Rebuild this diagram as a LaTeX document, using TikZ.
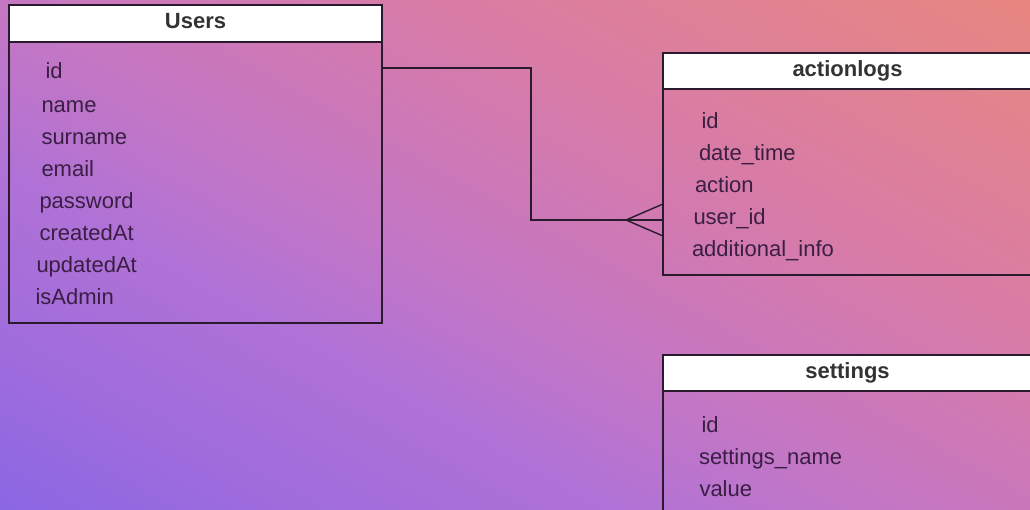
\documentclass[tikz,border=0pt]{standalone}
\usepackage{fontspec}
\setmainfont{Liberation Sans}
\definecolor{gA}{HTML}{8B67E3}
\definecolor{gB}{HTML}{A06CDC}
\definecolor{gC}{HTML}{B072D6}
\definecolor{gD}{HTML}{C677C2}
\definecolor{gE}{HTML}{D77BA8}
\definecolor{gF}{HTML}{E8877F}
\definecolor{edge}{HTML}{2A1A2E}
\definecolor{fieldtxt}{HTML}{3A1E44}
\definecolor{titletxt}{HTML}{333333}
\begin{document}
\begin{tikzpicture}[x=1pt,y=-1pt,
  tbl/.style={draw=edge, line width=1.4pt, anchor=north west, inner sep=0pt, outer sep=0pt},
  hdr/.style={draw=edge, line width=1.4pt, fill=white, anchor=north west, inner sep=0pt, outer sep=0pt,
    font=\fontsize{22}{26}\selectfont\bfseries, text=titletxt, text height=11pt, text depth=0pt},
  fld/.style={anchor=base west, inner sep=0pt, outer sep=0pt, font=\fontsize{22}{26}\selectfont, text=fieldtxt},
  conn/.style={draw=edge, line width=1.4pt}
]
\useasboundingbox (0,0) rectangle (1030,510);
\clip (0,0) rectangle (1030,510);
% background gradient, bottom-left purple to top-right salmon
\begin{scope}[shift={(0,510)}, rotate=61]
  \fill[gA] (-1500,-1500) rectangle (0.5,1500);
  \fill[gF] (950,-1500) rectangle (2500,1500);
  \foreach \ca/\cb/\ta/\tb in {gA/gB/0/150, gB/gC/150/300, gC/gD/300/450, gD/gE/450/640, gE/gF/640/950} {
    \foreach \k in {0,...,29} {
      \pgfmathsetmacro{\p}{100*(\k+0.5)/30}
      \pgfmathsetmacro{\xa}{\ta+(\tb-\ta)*\k/30}
      \pgfmathsetmacro{\xb}{\ta+(\tb-\ta)*(\k+1)/30+0.6}
      \fill[\cb!\p!\ca] (\xa,-1500) rectangle (\xb,1500);
    }
  }
\end{scope}

% Users
\node[tbl, minimum width=373pt, minimum height=318pt] (users) at (9,5) {};
\node[hdr, minimum width=373pt, minimum height=37pt] (usersh) at (9,5) {Users};
\node[fld] (uid) at (45.5,79) {id};
\node[fld] (uname) at (41.5,113) {name};
\node[fld] (usurname) at (41.5,145) {surname};
\node[fld] (uemail) at (41.5,177) {email};
\node[fld] (upass) at (39.5,209) {password};
\node[fld] (ucreated) at (39.5,241) {createdAt};
\node[fld] (uupdated) at (36.5,273) {updatedAt};
\node[fld] (uadmin) at (35.5,305) {isAdmin};

% actionlogs
\node[tbl, minimum width=369pt, minimum height=222pt] (logs) at (663,53) {};
\node[hdr, minimum width=369pt, minimum height=36pt] (logsh) at (663,53) {actionlogs};
\node[fld] (aid) at (701.5,129) {id};
\node[fld] (adate) at (699,161) {date\_time};
\node[fld] (aaction) at (695,193) {action};
\node[fld] (auser) at (693.5,225) {user\_id};
\node[fld] (ainfo) at (692,257) {additional\_info};

% settings
\node[tbl, minimum width=369pt, minimum height=200pt] (sets) at (663,355) {};
\node[hdr, minimum width=369pt, minimum height=36pt] (setsh) at (663,355) {settings};
\node[fld] (sid) at (701.5,432) {id};
\node[fld] (sname) at (699,464) {settings\_name};
\node[fld] (svalue) at (699.5,496) {value};

% connector
\coordinate (cstart) at (users.east |- 0,68);
\coordinate (cbend1) at (531,68);
\coordinate (cbend2) at (531,220);
\coordinate (cend) at (logs.west |- 0,220);
\coordinate (cfoot) at (626,220);
\draw[conn, line join=miter] (cstart) -- (cbend1) -- (cbend2) -- (cend);
\draw[conn] (logs.west |- 0,204) -- (cfoot) -- (logs.west |- 0,236);
\end{tikzpicture}
\end{document}
